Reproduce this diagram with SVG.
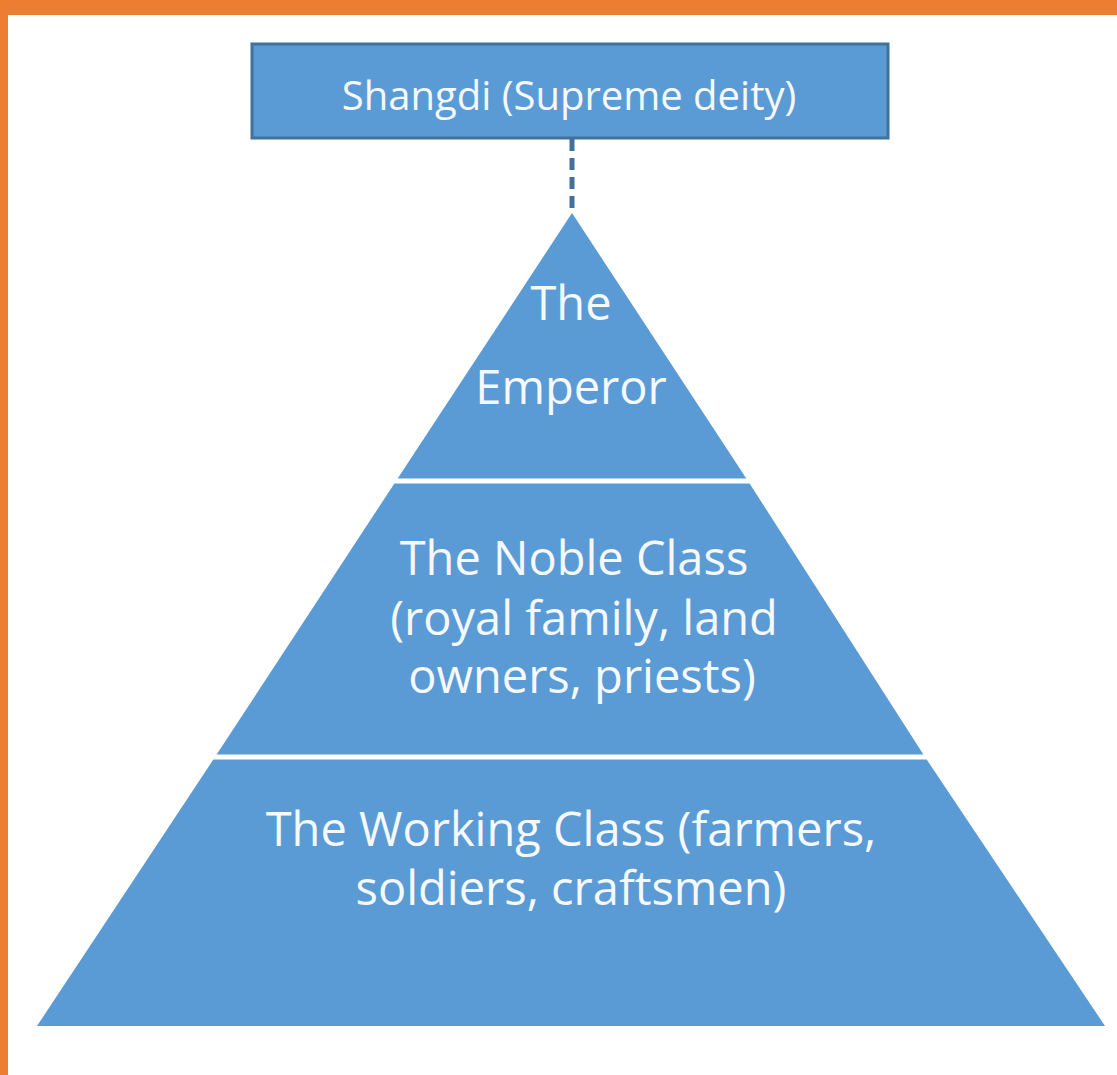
<svg xmlns="http://www.w3.org/2000/svg" width="1117" height="1075" viewBox="0 0 1117 1075">
<style>
.bg{fill:#ffffff}
.frame{fill:#ED7D31}
.shape{fill:#5B9BD5}
.box{fill:#5B9BD5;stroke:#41719C;stroke-width:3}
.sep{stroke:#ffffff;stroke-width:5}
.conn{stroke:#41719C;stroke-width:5;stroke-dasharray:12 7;fill:none}
.t{font-family:"Open Sans","Liberation Sans",sans-serif;fill:#f5f9fd;text-anchor:middle;font-weight:500}
.s{font-size:40px}
.m{font-size:47px}
</style>
<rect class="bg" x="0" y="0" width="1117" height="1075"/>
<rect class="frame" x="0" y="0" width="1117" height="15"/>
<rect class="frame" x="0" y="0" width="8" height="1075"/>
<g id="connectors">
<line class="conn" x1="572" y1="139" x2="572" y2="214"/>
</g>
<g id="shangdi">
<rect class="box" x="252" y="44" width="636" height="94"/>
<text class="t s" x="569" y="110">Shangdi (Supreme deity)</text>
</g>
<g id="emperor">
<polygon class="shape" points="572,213 748,481 396,481"/>
<text class="t m" x="571" y="320">The</text>
<text class="t m" x="571" y="404">Emperor</text>
</g>
<g id="noble">
<polygon class="shape" points="396,481 748,481 925,757 215,757"/>
<text class="t m" x="574" y="575">The Noble Class</text>
<text class="t m" x="584" y="635">(royal family, land</text>
<text class="t m" x="582" y="693">owners, priests)</text>
</g>
<g id="working">
<polygon class="shape" points="215,757 925,757 1105,1026 37,1026"/>
<text class="t m" x="571" y="846">The Working Class (farmers,</text>
<text class="t m" x="571" y="905">soldiers, craftsmen)</text>
</g>
<line class="sep" x1="200" y1="481" x2="950" y2="481"/>
<line class="sep" x1="200" y1="757" x2="950" y2="757"/>
</svg>
